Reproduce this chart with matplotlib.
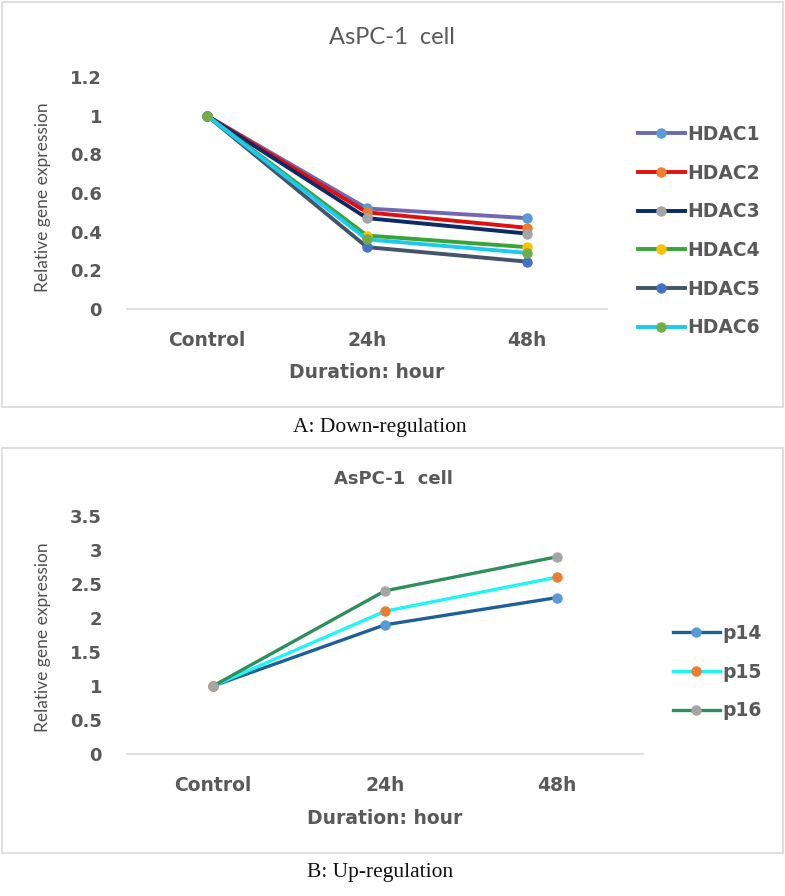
import numpy as np
import matplotlib.pyplot as plt
from matplotlib.patches import Rectangle

# data
durations = ['Control', '24h', '48h']

hdac_names = ['HDAC1', 'HDAC2', 'HDAC3', 'HDAC4', 'HDAC5', 'HDAC6']
hdac1 = [1.0, 0.52, 0.47]
hdac2 = [1.0, 0.50, 0.42]
hdac3 = [1.0, 0.47, 0.39]
hdac4 = [1.0, 0.38, 0.32]
hdac5 = [1.0, 0.32, 0.245]
hdac6 = [1.0, 0.36, 0.29]

p_names = ['p14', 'p15', 'p16']
p14 = [1.0, 1.9, 2.3]
p15 = [1.0, 2.1, 2.6]
p16 = [1.0, 2.4, 2.9]

hdac_line_colors = ['#7068b0', '#e01010', '#0b2a66', '#3aa33a', '#44546a', '#1ccaf0']
hdac_marker_colors = ['#5b9bd5', '#ed7d31', '#a5a5a5', '#ffc000', '#4472c4', '#70ad47']
p_line_colors = ['#1f5f99', '#1ff5f5', '#2e8f5a']
p_marker_colors = ['#5b9bd5', '#ed7d31', '#a5a5a5']

W, H = 785, 896
TXT = '#595959'
BOLD_FONT = 'DejaVu Sans'
REG_FONT = 'Lato'


def px_axes(left, top, right, bottom):
    return [left / W, 1 - bottom / H, (right - left) / W, (bottom - top) / H]


def fx(x):
    return x / W


def fy(y):
    return 1 - y / H


fig = plt.figure(figsize=(W / 100, H / 100), dpi=100)

# panel frames
for top, bot in [(2, 407), (448, 853)]:
    fig.patches.append(Rectangle((fx(2), fy(bot)), fx(781), (bot - top) / H,
                                 transform=fig.transFigure, fill=False,
                                 edgecolor='#d9d9d9', linewidth=1.2))


def style_axes(ax, ymax, ystep, fmt):
    x = np.arange(len(durations))
    ax.set_xlim(-0.5, 2.5)
    ax.set_ylim(0, ymax)
    ax.set_xticks(x)
    ax.set_xticklabels(durations, fontsize=13.5, fontweight='bold',
                       color=TXT, family=BOLD_FONT)
    yt = np.arange(0, ymax + 1e-9, ystep)
    ax.set_yticks(yt)
    ax.set_yticklabels([fmt(v) for v in yt], fontsize=13, fontweight='bold',
                       color=TXT, family=BOLD_FONT)
    ax.tick_params(length=0)
    ax.tick_params(axis='y', pad=18)
    ax.tick_params(axis='x', pad=16)
    for s in ['top', 'right', 'left']:
        ax.spines[s].set_visible(False)
    ax.spines['bottom'].set_color('#d9d9d9')
    ax.spines['bottom'].set_linewidth(1.2)
    ax.patch.set_alpha(0)


def fmt_general(v):
    s = ('%.1f' % v).rstrip('0').rstrip('.')
    return s


LEG_KW = dict(bbox_transform=fig.transFigure, frameon=False, numpoints=1,
              prop={'family': BOLD_FONT, 'weight': 'bold', 'size': 13.5},
              labelcolor=TXT, handlelength=2.5, handletextpad=0.15,
              labelspacing=1.05, borderaxespad=0, borderpad=0)

# ---- panel A ----
ax1 = fig.add_axes(px_axes(127, 77, 607, 309))
xpos = np.arange(len(durations))
hdac_series = [hdac1, hdac2, hdac3, hdac4, hdac5, hdac6]
for name, vals, lc, mc in zip(hdac_names, hdac_series, hdac_line_colors, hdac_marker_colors):
    ax1.plot(xpos, vals, color=lc, linewidth=2.8, marker='o', markersize=6.5,
             markerfacecolor=mc, markeredgecolor=mc, label=name, clip_on=False)
style_axes(ax1, 1.2, 0.2, fmt_general)
fig.text(fx(392), fy(37), 'AsPC-1  cell', ha='center', va='center',
         fontsize=17, color=TXT, family=REG_FONT)
fig.text(fx(367), fy(373), 'Duration: hour', ha='center', va='center',
         fontsize=13.5, fontweight='bold', color=TXT, family=BOLD_FONT)
fig.text(fx(43), fy(197), 'Relative gene expression', rotation=90,
         ha='center', va='center', fontsize=12.5, color='#505050', family=REG_FONT)
ax1.legend(loc='upper left', bbox_to_anchor=(fx(638), fy(125)), **LEG_KW)
fig.text(fx(380), fy(427), 'A: Down-regulation', ha='center', va='center',
         fontsize=15.5, color='#111111', family='Liberation Serif')

# ---- panel B ----
ax2 = fig.add_axes(px_axes(127, 516, 643, 754))
p_series = [p14, p15, p16]
for name, vals, lc, mc in zip(p_names, p_series, p_line_colors, p_marker_colors):
    ax2.plot(xpos, vals, color=lc, linewidth=2.4, marker='o', markersize=6.5,
             markerfacecolor=mc, markeredgecolor=mc, label=name, clip_on=False)
style_axes(ax2, 3.5, 0.5, fmt_general)
fig.text(fx(393), fy(479), 'AsPC-1  cell', ha='center', va='center',
         fontsize=13, fontweight='bold', color=TXT, family=BOLD_FONT)
fig.text(fx(385), fy(818), 'Duration: hour', ha='center', va='center',
         fontsize=13.5, fontweight='bold', color=TXT, family=BOLD_FONT)
fig.text(fx(43), fy(637), 'Relative gene expression', rotation=90,
         ha='center', va='center', fontsize=12.5, color='#505050', family=REG_FONT)
ax2.legend(loc='upper left', bbox_to_anchor=(fx(673), fy(624)), **LEG_KW)
fig.text(fx(380), fy(872), 'B: Up-regulation', ha='center', va='center',
         fontsize=15.5, color='#111111', family='Liberation Serif')

fig.savefig('out.png', dpi=100, facecolor='white')
